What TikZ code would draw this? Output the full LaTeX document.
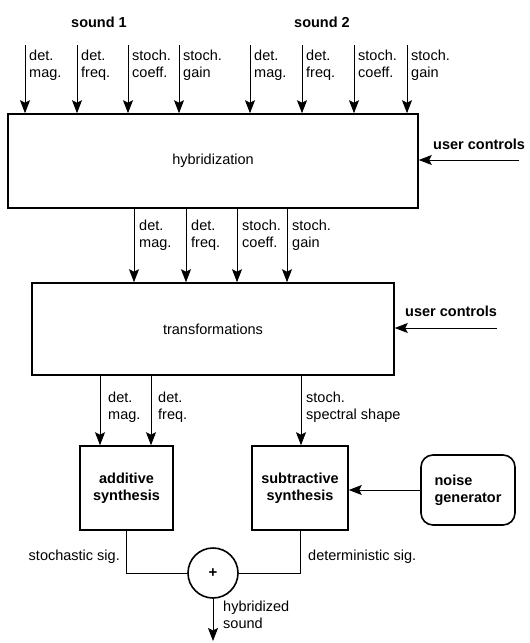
\documentclass[tikz,border=0pt]{standalone}
\usepackage{fontspec}
\setmainfont{Liberation Sans}
\usetikzlibrary{arrows.meta}
\begin{document}
\begin{tikzpicture}[x=1pt,y=-1pt,
  txt/.style={font=\fontsize{14.5}{17}\selectfont, inner sep=0pt, align=left},
  btxt/.style={font=\fontsize{14.5}{17}\selectfont\bfseries, inner sep=0pt, align=center},
  blk/.style={draw, line width=1.6pt, inner sep=0pt},
  arr/.style={-{Stealth[length=13pt,width=10pt,inset=2.5pt]}, line width=0.9pt},
  lbl/.style={txt, anchor=north west},
  plain/.style={line width=0.9pt}]
\useasboundingbox (0,0) rectangle (530,643);

% blocks
\node[blk, minimum width=410, minimum height=94, txt, align=center] (hyb) at (213,161) {hybridization};
\node[blk, minimum width=362, minimum height=92, txt, align=center] (trans) at (213,329) {transformations};
\node[blk, minimum width=93, minimum height=84, btxt] (add) at (126.5,488) {additive\\synthesis};
\node[blk, minimum width=96, minimum height=84, btxt] (sub) at (300,488) {subtractive\\synthesis};
\node[blk, rounded corners=12pt, minimum width=94, minimum height=70, btxt, align=left] (noise) at (468,490) {noise\\generator};
\node[draw, circle, line width=1.6pt, minimum size=50, inner sep=0pt, font=\fontsize{15}{17}\selectfont\bfseries] (sum) at (213,573) {+};

% titles
\node[btxt] (s1) at (99,22) {sound 1};
\node[btxt] (s2) at (322,22) {sound 2};
\node[btxt, anchor=base west] (uct1) at (433,149) {user controls};
\node[btxt, anchor=base west] (uct2) at (405,316) {user controls};

% top inputs
\foreach \x/\t [count=\i] in {25/{det.\\mag.},77/{det.\\freq.},128/{stoch.\\coeff.},179/{stoch.\\gain},250/{det.\\mag.},302/{det.\\freq.},354/{stoch.\\coeff.},407/{stoch.\\gain}}{
  \coordinate (t\i) at (\x,45);
  \draw[arr] (t\i) -- (t\i |- hyb.north);
  \node[lbl] (tl\i) at (\x+4,50) {\t};
}

% hybridization -> transformations
\foreach \x/\t [count=\i] in {134/{det.\\mag.},186/{det.\\freq.},237/{stoch.\\coeff.},287/{stoch.\\gain}}{
  \coordinate (m\i) at (\x,0);
  \draw[arr] (m\i |- hyb.south) -- (m\i |- trans.north);
  \node[lbl] (ml\i) at (\x+5,220) {\t};
}

% transformations -> synthesis
\coordinate (b1) at (100,0);
\coordinate (b2) at (151,0);
\coordinate (b3) at (301,0);
\draw[arr] (b1 |- trans.south) -- (b1 |- add.north);
\draw[arr] (b2 |- trans.south) -- (b2 |- add.north);
\draw[arr] (b3 |- trans.south) -- (b3 |- sub.north);
\node[lbl] (bl1) at (108,392) {det.\\mag.};
\node[lbl] (bl2) at (158,392) {det.\\freq.};
\node[lbl] (bl3) at (306,392) {stoch.\\spectral shape};

% user controls arrows
\coordinate (uc1) at (519,160);
\coordinate (uc2) at (497,328);
\draw[arr] (uc1) -- (uc1 -| hyb.east);
\draw[arr] (uc2) -- (uc2 -| trans.east);

% noise -> subtractive
\draw[arr] (noise.west) -- (noise.west -| sub.east);

% to sum
\draw[plain] (add.south) |- (sum.west);
\draw[plain] (sub.south) |- (sum.east);
\node[txt, anchor=base east] (stl) at (120,560) {stochastic sig.};
\node[txt, anchor=base west] (dtl) at (308,560) {deterministic sig.};

% output
\coordinate (out) at (213,641);
\draw[arr] (sum.south) -- (out);
\node[lbl] (ol) at (223,601) {hybridized\\sound};
\end{tikzpicture}
\end{document}
